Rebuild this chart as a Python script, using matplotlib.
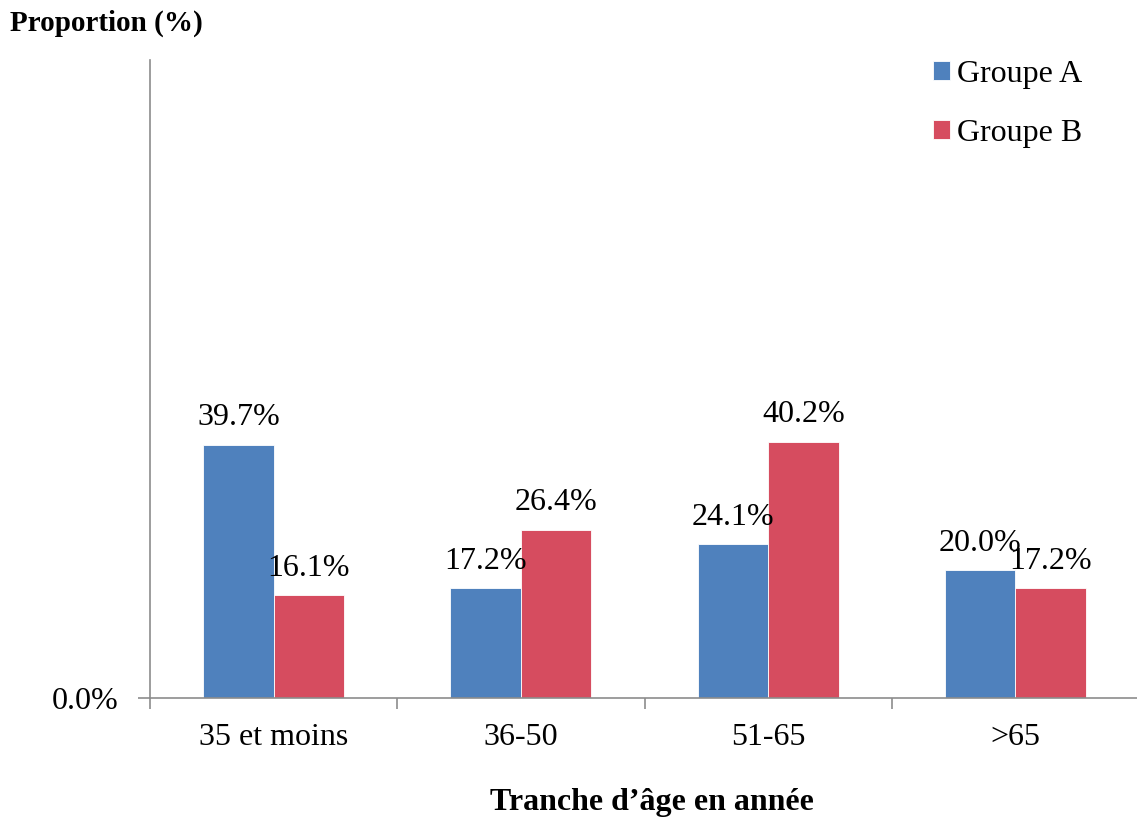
import numpy as np
import matplotlib.pyplot as plt

categories = ['35 et moins', '36-50', '51-65', '>65']
groupe_a = [39.7, 17.2, 24.1, 20.0]
groupe_b = [16.1, 26.4, 40.2, 17.2]

blue = '#4F81BD'
red = '#D64C5F'
axis_grey = '#8C8C8C'

plt.rcParams['font.family'] = ['Liberation Serif', 'DejaVu Serif']

fig = plt.figure(figsize=(11.37, 8.21), dpi=100)
ax = fig.add_axes([150 / 1137, 123 / 821, 989 / 1137, 638 / 821])

x = np.arange(len(categories))
w = 0.285
bars_a = ax.bar(x - w / 2, groupe_a, w, color=blue, edgecolor='white', linewidth=0.6, label='Groupe A')
bars_b = ax.bar(x + w / 2, groupe_b, w, color=red, edgecolor='white', linewidth=0.6, label='Groupe B')

# value labels above each bar
for bars, vals in ((bars_a, groupe_a), (bars_b, groupe_b)):
    for b, v in zip(bars, vals):
        ax.annotate(f'{v:.1f}%', (b.get_x() + b.get_width() / 2, v),
                    xytext=(0, 9), textcoords='offset points',
                    ha='center', va='bottom', fontsize=23)

ax.set_xlim(-0.5, len(categories) - 0.5)
ax.set_ylim(0, 100)

# tick marks between groups, labels at group centres
ax.set_xticks(np.arange(len(categories) + 1) - 0.5)
ax.set_xticklabels([])
ax.set_xticks(x, minor=True)
ax.set_xticklabels(categories, minor=True, fontsize=23)
ax.tick_params(axis='x', which='major', direction='out', length=8, color=axis_grey, width=1.2)
ax.tick_params(axis='x', which='minor', length=0, pad=18)

ax.set_yticks([0])
ax.set_yticklabels(['0.0%'], fontsize=23)
ax.tick_params(axis='y', direction='out', length=9, color=axis_grey, width=1.2, pad=14)

for side in ('top', 'right'):
    ax.spines[side].set_visible(False)
for side in ('left', 'bottom'):
    ax.spines[side].set_color(axis_grey)
    ax.spines[side].set_linewidth(1.2)

fig.text(10 / 1137, 1 - 23 / 821, 'Proportion (%)', fontsize=21, fontweight='bold', va='center', ha='left')
fig.text(652 / 1137, 1 - 802 / 821, 'Tranche d\u2019âge en année', fontsize=23, fontweight='bold', va='center', ha='center')

fig.legend(loc='upper left', bbox_to_anchor=(920 / 1137, 1 - 47 / 821), frameon=False, fontsize=23,
           borderaxespad=0, handlelength=0.55, handleheight=0.55, handletextpad=0.2, labelspacing=0.95)

fig.savefig('out.png', dpi=100)
